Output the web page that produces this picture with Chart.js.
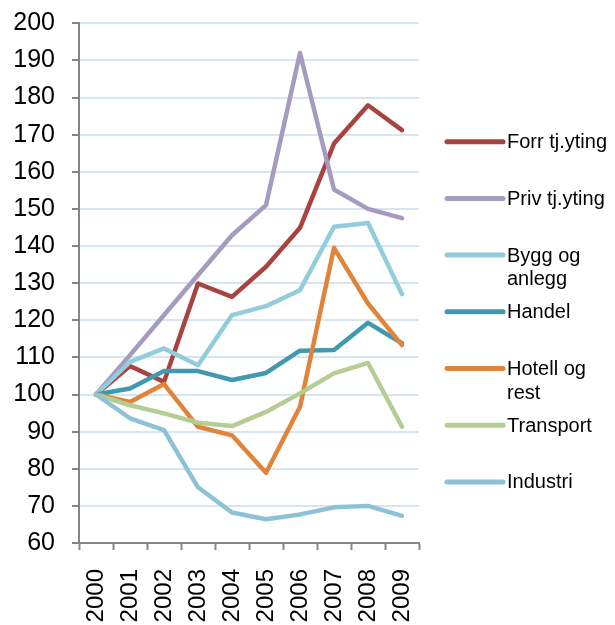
<!DOCTYPE html>
<html>
<head>
<meta charset="utf-8">
<script src="https://cdn.jsdelivr.net/npm/chart.js@4.4.1/dist/chart.umd.min.js"></script>
<style>
  html, body { margin: 0; padding: 0; background: #fff; }
  #wrap { width: 615px; height: 625px; }
</style>
</head>
<body>
<div id="wrap"><canvas id="chart"></canvas></div>
<script>
// Data
const years = ['2000', '2001', '2002', '2003', '2004', '2005', '2006', '2007', '2008', '2009'];

const forrTjYting = [100, 107.7, 103.4, 129.9, 126.3, 134.4, 144.9, 167.6, 177.9, 171.2];
const privTjYting = [100, 110.6, 121.4, 132.2, 142.9, 151.0, 192.0, 155.2, 150.0, 147.5];
const byggOgAnlegg = [100, 108.8, 112.4, 107.9, 121.4, 123.8, 128.1, 145.2, 146.2, 127.0];
const handel = [100, 101.6, 106.3, 106.3, 103.9, 105.8, 111.8, 112.0, 119.3, 113.8];
const hotellOgRest = [100, 98.0, 102.8, 91.3, 89.0, 78.9, 96.7, 139.5, 124.5, 113.3];
const transport = [100, 97.1, 94.9, 92.4, 91.5, 95.3, 100.3, 105.7, 108.5, 91.3];
const industri = [100, 93.6, 90.4, 75.0, 68.2, 66.4, 67.7, 69.6, 70.0, 67.3];

const seriesNames = ['Forr tj.yting', 'Priv tj.yting', 'Bygg og anlegg', 'Handel', 'Hotell og rest', 'Transport', 'Industri'];
const seriesValues = [forrTjYting, privTjYting, byggOgAnlegg, handel, hotellOgRest, transport, industri];
const seriesColors = ['#a9433f', '#a59bc0', '#93cddd', '#4199b0', '#e0843a', '#b5cc92', '#8dc2d6'];

const yMin = 60;
const yMax = 200;
const yStep = 10;

const FONT = '"Liberation Sans", Arial, sans-serif';
const AXIS_GRAY = '#868686';

// Legend on the right, drawn in the canvas like the original
const sideLegend = {
  id: 'sideLegend',
  afterDraw(chart) {
    const ctx = chart.ctx;
    const x0 = 447, x1 = 503, tx = 507;
    const top = 141.7, rowGap = 56.7, lineGap = 23.5, maxW = 106;
    ctx.save();
    ctx.font = '20px ' + FONT;
    ctx.textBaseline = 'middle';
    ctx.textAlign = 'left';
    chart.data.datasets.forEach((ds, i) => {
      const y = top + i * rowGap;
      ctx.strokeStyle = ds.borderColor;
      ctx.lineWidth = 5;
      ctx.lineCap = 'round';
      ctx.beginPath();
      ctx.moveTo(x0, y);
      ctx.lineTo(x1, y);
      ctx.stroke();

      // simple word wrap
      const words = ds.label.split(' ');
      const lines = [];
      let cur = '';
      words.forEach(w => {
        const test = cur ? cur + ' ' + w : w;
        if (cur && ctx.measureText(test).width > maxW) {
          lines.push(cur);
          cur = w;
        } else {
          cur = test;
        }
      });
      lines.push(cur);

      ctx.fillStyle = '#000';
      lines.forEach((ln, k) => ctx.fillText(ln, tx, y + 1 + k * lineGap));
    });
    ctx.restore();
  },
};

const ctx = document.getElementById('chart');

new Chart(ctx, {
  type: 'line',
  data: {
    labels: years,
    datasets: seriesNames.map((name, i) => ({
      label: name,
      data: seriesValues[i],
      borderColor: seriesColors[i],
      backgroundColor: seriesColors[i],
      borderWidth: 4.5,
      borderCapStyle: 'round',
      borderJoinStyle: 'round',
      pointRadius: 0,
      pointHoverRadius: 0,
      tension: 0,
      fill: false,
      order: -i,
    })),
  },
  options: {
    responsive: true,
    maintainAspectRatio: false,
    animation: false,
    layout: {
      padding: { top: 23, right: 196, bottom: 0, left: 0 },
    },
    plugins: {
      legend: { display: false },
      tooltip: { enabled: false },
    },
    scales: {
      x: {
        type: 'category',
        offset: true,
        afterFit: (scale) => { scale.height = 82; },
        border: { color: AXIS_GRAY, width: 2 },
        grid: {
          offset: true,
          drawOnChartArea: false,
          drawTicks: true,
          tickLength: 7,
          tickColor: AXIS_GRAY,
          tickWidth: 2,
        },
        ticks: {
          minRotation: 90,
          maxRotation: 90,
          padding: 19,
          color: '#000',
          font: { family: FONT, size: 24 },
        },
      },
      y: {
        min: yMin,
        max: yMax,
        afterFit: (scale) => { scale.width = 79; },
        border: { color: AXIS_GRAY, width: 2 },
        grid: {
          color: '#d9e4f1',
          lineWidth: 2,
          drawTicks: true,
          tickLength: 7,
          tickColor: AXIS_GRAY,
          tickWidth: 2,
        },
        ticks: {
          stepSize: yStep,
          padding: 17,
          color: '#000',
          font: { family: FONT, size: 25, lineHeight: 0.5 },
        },
      },
    },
  },
  plugins: [sideLegend],
});
</script>
</body>
</html>
